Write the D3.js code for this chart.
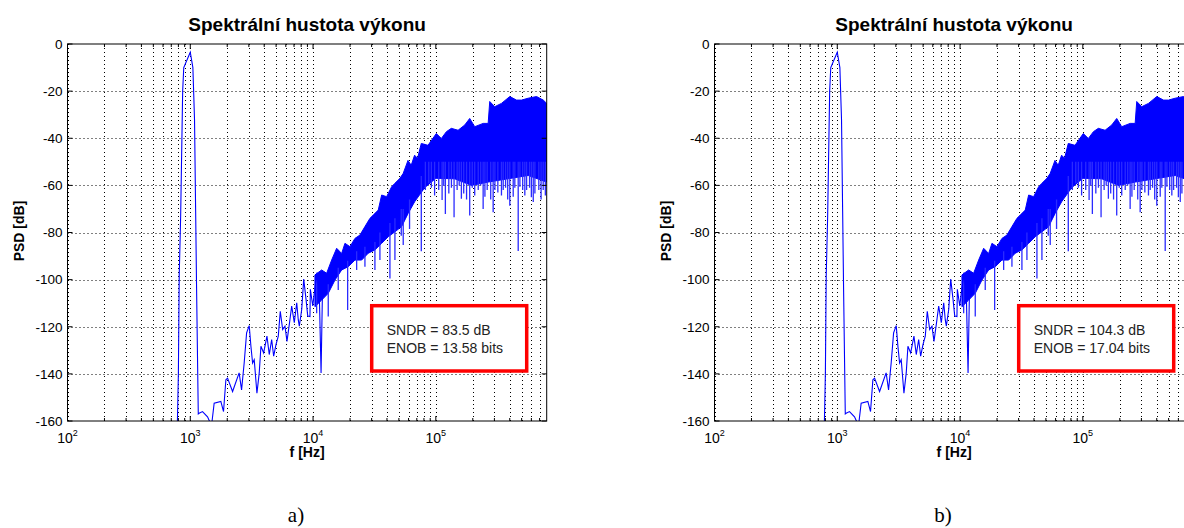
<!DOCTYPE html>
<html><head><meta charset="utf-8">
<script src="https://cdn.jsdelivr.net/npm/d3@7"></script>
<style>body{margin:0;background:#fff;} svg{display:block;}</style>
</head><body>
<svg id="c" width="1184" height="528"></svg>
<script>
// ---- data ----
const panelTitles = ["Spektrální hustota výkonu", "Spektrální hustota výkonu"];
const resultLines = [["SNDR = 83.5 dB", "ENOB = 13.58 bits"], ["SNDR = 104.3 dB", "ENOB = 17.04 bits"]];
const captions = ["a)", "b)"];
const xLabel = "f [Hz]";
const yLabel = "PSD [dB]";
const yTicks = [0, -20, -40, -60, -80, -100, -120, -140, -160];
const xDecades = [100, 1000, 10000, 100000];
const xExps = ["2", "3", "4", "5"];

// sine peak + low-frequency noise floor: [f Hz, dB]
const lineData = [
  [775,-175],[800,-140],[813,-98],[835,-73],[867,-20],[885,-10],[1000,-3.5],[1050,-10],[1083,-32],[1106,-71],[1125,-103],[1162,-157],
  [1180,-156.7],[1258,-156.0],[1382,-158.2],[1490,-162],[1565,-152.4],[1774,-151.7],[1866,-156.0],[1950,-142.5],[2013,-141.8],
  [2211,-147.5],[2500,-139.6],[2617,-146.8],[2748,-135.4],[2876,-122.6],[3020,-119.5],[3118,-128.3],[3219,-135.4],[3318,-134.0],
  [3491,-148.2],[3645,-139.6],[3763,-128.3],[3959,-131.1],[4212,-124.0],[4399,-131.8],[4602,-125.4],[4778,-132.5],[4989,-127.6],
  [5210,-124.0],[5408,-113.4],[5657,-121.2],[5907,-119.8],[6134,-126.2],[6406,-119.0],[6700,-111.2],[7036,-118.3],[7362,-109.8],
  [7577,-117.0],[7730,-119.8],[8088,-112.6],[8395,-99.8],[8769,-108.4],[9051,-115.5],[9434,-115.7],[9506,-104.1],[9945,-111.2],
  [10247,-105.5],[10782,-97.0],[11257,-107.0],[11623,-139.6],[12000,-97.0],[12531,-101.2]
];

// dense high-frequency noise band: upper and lower envelopes [f Hz, dB]
const bandUpper = [
  [10363,-98.0],[11749,-95.9],[12903,-97.3],[14173,-91.7],[15569,-86.7],[17098,-88.9],[18190,-84.6],[19977,-86.0],[21940,-82.5],
  [24090,-81.1],[26460,-77.5],[29060,-74.0],[30920,-72.6],[33960,-70.5],[36200,-64.1],[39750,-64.8],[43650,-60.6],[46440,-59.1],
  [51030,-57.0],[54260,-54.9],[59330,-49.4],[63000,-51.5],[67140,-47.2],[71000,-48.5],[76140,-42.2],[86370,-43.0],[100900,-38.0],
  [110900,-40.1],[122000,-37.2],[133800,-35.8],[151800,-36.6],[171900,-34.4],[188800,-31.6],[207400,-35.1],[242900,-33.7],
  [266800,-33.7],[274900,-24.4],[302000,-26.6],[342500,-25.2],[400400,-22.3],[454100,-23.8],[498900,-23.8],[565600,-23.0],
  [661300,-22.3],[750300,-23.8],[800000,-25.2]
];
const bandLower = [
  [10363,-111.5],[11749,-108.7],[13300,-105.8],[15080,-100.2],[17098,-95.9],[19350,-94.5],[21940,-91.7],[24870,-91.7],
  [28150,-88.8],[31910,-87.4],[36200,-84.6],[40960,-81.8],[46440,-79.7],[52670,-77.5],[59330,-72],[67140,-67],[81030,-61],
  [100000,-57],[142400,-57.2],[194900,-60.0],[266800,-58.6],[388600,-57.2],[565600,-55.8],[800000,-58.6]
];
// downward spikes: [f Hz, top dB, bottom dB]
const spikes = [
  [10700,-100,-114.3],[13300,-102,-115.7],[16040,-95,-104.4],[19130,-92,-112.9],[22650,-88,-95.9],[26460,-86,-94.5],
  [31910,-84,-95.9],[35050,-80,-91.7],[42290,-76,-99.5],[46440,-74,-91.7],[52290,-70,-81.4],[54260,-70,-85.3],[61100,-66,-78.5],
  [76140,-56,-88.0],[82200,-50,-62],[87600,-50,-59.1],[92000,-50,-61],[97730,-50,-64.3],[105600,-50,-62],[112500,-50,-66.2],
  [116000,-50,-60],[119600,-50,-72.1],[127600,-50,-63.4],[134000,-50,-61],[140800,-50,-73.5],[149100,-50,-62],[155000,-50,-60],
  [161500,-50,-65.7],[168700,-50,-63.4],[178000,-50,-66],[188800,-50,-72.8],[198000,-50,-61],[207400,-50,-64.3],[221500,-50,-62],
  [232000,-50,-60],[242900,-50,-70],[251100,-50,-64.8],[262000,-50,-62],[280000,-50,-66],[293100,-50,-71.4],[302900,-50,-62],
  [320000,-50,-63],[342500,-50,-64.3],[353900,-50,-62],[370000,-50,-61],[385000,-50,-66],[400400,-50,-68.6],[426900,-50,-64.8],
  [440000,-50,-61],[468800,-50,-87.8],[484000,-50,-60.6],[510000,-50,-62],[530800,-50,-64.3],[548900,-50,-62],[580000,-50,-61],
  [600000,-50,-65],[621600,-50,-67.1],[641200,-50,-63.4],[690000,-50,-62],[720000,-50,-66],[749100,-50,-62],[780000,-50,-64.3]
];

// ---- drawing ----
const svg = d3.select("#c");
const FONT = "'Liberation Sans', Arial, sans-serif";
const panelOffsets = [0, 647];
const TOP = 44, BOTTOM = 421, LEFT = 67.5, RIGHT = 546.7;

panelOffsets.forEach((off, pi) => {
  const g = svg.append("g");
  const L = LEFT + off, R = RIGHT + off;
  const x = d3.scaleLog().domain([100, 800000]).range([L, R]);
  const y = d3.scaleLinear().domain([-160, 0]).range([BOTTOM, TOP]);

  // grid
  const minor = [];
  xDecades.forEach(d => { for (let k = 1; k <= 9; k++) { const v = d * k; if (v < 800000) minor.push(v); } });
  g.selectAll("line.vg").data(minor).join("line")
    .attr("x1", d => Math.round(x(d)) + 0.5).attr("x2", d => Math.round(x(d)) + 0.5)
    .attr("y1", TOP).attr("y2", BOTTOM)
    .attr("stroke", "#000").attr("stroke-width", 1).attr("stroke-dasharray", "1,3");
  g.selectAll("line.hg").data(yTicks.slice(1, -1)).join("line")
    .attr("x1", L).attr("x2", R)
    .attr("y1", d => Math.round(y(d)) + 0.5).attr("y2", d => Math.round(y(d)) + 0.5)
    .attr("stroke", "#000").attr("stroke-width", 1).attr("stroke-dasharray", "1,3");

  // clip
  const cid = "clip" + pi;
  svg.append("clipPath").attr("id", cid).append("rect")
    .attr("x", L).attr("y", TOP).attr("width", R - L).attr("height", BOTTOM - TOP);
  const pg = g.append("g").attr("clip-path", `url(#${cid})`);

  // band polygon
  const poly = bandUpper.concat(bandLower.slice().reverse());
  pg.append("path")
    .attr("d", d3.line().x(d => x(d[0])).y(d => y(d[1]))(poly) + "Z")
    .attr("fill", "#0000ff").attr("stroke", "#0000ff").attr("stroke-width", 1);
  pg.selectAll("line.sp").data(spikes).join("line")
    .attr("x1", d => x(d[0])).attr("x2", d => x(d[0]))
    .attr("y1", d => y(d[1])).attr("y2", d => y(d[2]))
    .attr("stroke", "#2a2aff").attr("stroke-width", 1.3);
  pg.append("path")
    .attr("d", d3.line().x(d => x(d[0])).y(d => y(d[1]))(lineData))
    .attr("fill", "none").attr("stroke", "#0000ff").attr("stroke-width", 1.1);

  // axes box
  g.append("rect").attr("x", L).attr("y", TOP).attr("width", R - L).attr("height", BOTTOM - TOP)
    .attr("fill", "none").attr("stroke", "#000").attr("stroke-width", 1);

  // ticks (inward)
  g.selectAll("line.xt").data(minor).join("line")
    .attr("x1", d => x(d)).attr("x2", d => x(d))
    .attr("y1", BOTTOM).attr("y2", d => BOTTOM - (xDecades.includes(d) ? 5 : 3))
    .attr("stroke", "#000");
  g.selectAll("line.xt2").data(minor).join("line")
    .attr("x1", d => x(d)).attr("x2", d => x(d))
    .attr("y1", TOP).attr("y2", d => TOP + (xDecades.includes(d) ? 5 : 3))
    .attr("stroke", "#000");
  g.selectAll("line.yt").data(yTicks).join("line")
    .attr("x1", L).attr("x2", L + 5).attr("y1", d => y(d)).attr("y2", d => y(d)).attr("stroke", "#000");
  g.selectAll("line.yt2").data(yTicks).join("line")
    .attr("x1", R).attr("x2", R - 5).attr("y1", d => y(d)).attr("y2", d => y(d)).attr("stroke", "#000");

  // tick labels
  g.selectAll("text.yl").data(yTicks).join("text")
    .attr("x", L - 5).attr("y", d => y(d)).attr("dy", "0.36em")
    .attr("text-anchor", "end").attr("font-family", FONT).attr("font-size", 13.5)
    .text(d => d);
  xDecades.forEach((d, i) => {
    const t = g.append("text").attr("x", x(d)).attr("y", 443)
      .attr("text-anchor", "middle").attr("font-family", FONT).attr("font-size", 14);
    t.append("tspan").text("10");
    t.append("tspan").attr("dy", -7).attr("font-size", 9).text(xExps[i]);
  });

  // titles
  g.append("text").attr("x", (L + R) / 2).attr("y", 31).attr("text-anchor", "middle")
    .attr("font-family", FONT).attr("font-weight", "bold").attr("font-size", 19).text(panelTitles[pi]);
  g.append("text").attr("x", (L + R) / 2).attr("y", 457).attr("text-anchor", "middle")
    .attr("font-family", FONT).attr("font-weight", "bold").attr("font-size", 14).text(xLabel);
  g.append("text").attr("transform", `translate(${24 + off},231) rotate(-90)`).attr("text-anchor", "middle")
    .attr("font-family", FONT).attr("font-weight", "bold").attr("font-size", 14).text(yLabel);

  // result box
  g.append("rect").attr("x", 371.7 + off).attr("y", 305.7).attr("width", 155).attr("height", 65.3)
    .attr("fill", "#fff").attr("stroke", "#ff0000").attr("stroke-width", 3.5);
  resultLines[pi].forEach((s, i) => {
    g.append("text").attr("x", 386.7 + off).attr("y", 335 + i * 18.3)
      .attr("font-family", FONT).attr("font-size", 14).attr("fill", "#222").text(s);
  });

  // caption
  svg.append("text").attr("x", 296 + off).attr("y", 522).attr("text-anchor", "middle")
    .attr("font-family", "'Liberation Serif', 'Times New Roman', serif").attr("font-size", 21).text(captions[pi]);
});
</script>
</body></html>
